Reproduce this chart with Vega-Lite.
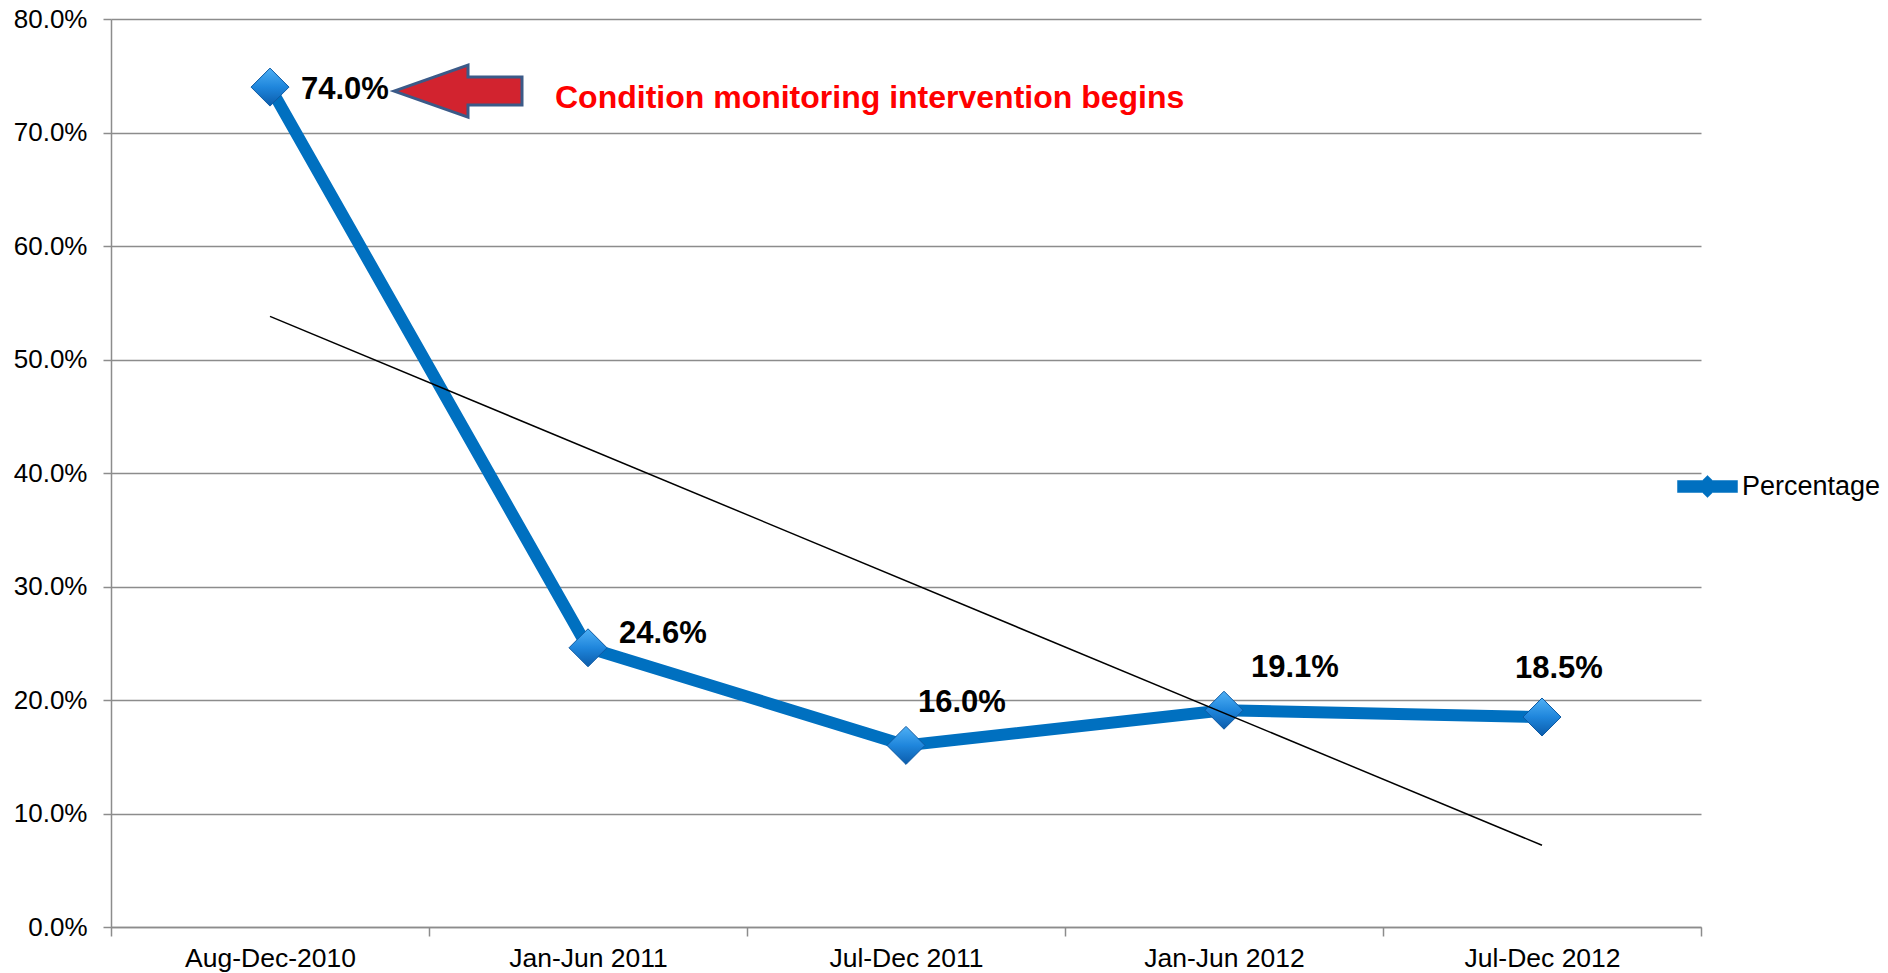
{
  "$schema": "https://vega.github.io/schema/vega-lite/v6.json",
  "width": 1590,
  "height": 908,
  "autosize": {"type": "none"},
  "padding": {"left": 111, "top": 19, "right": 187, "bottom": 46},
  "background": "white",
  "config": {"view": {"stroke": null}, "font": "Liberation Sans"},
  "datasets": {
    "main": [
      {"period": "Aug-Dec-2010", "value": 0.74},
      {"period": "Jan-Jun 2011", "value": 0.246},
      {"period": "Jul-Dec 2011", "value": 0.16},
      {"period": "Jan-Jun 2012", "value": 0.191},
      {"period": "Jul-Dec 2012", "value": 0.185}
    ],
    "trend": [
      {"period": "Aug-Dec-2010", "trend": 0.538},
      {"period": "Jul-Dec 2012", "trend": 0.072}
    ],
    "note": [
      {"period": "Aug-Dec-2010", "value": 0.74, "note": "Condition monitoring intervention begins"}
    ]
  },
  "encoding": {
    "x": {
      "field": "period",
      "type": "nominal",
      "sort": null,
      "scale": {
        "type": "band",
        "paddingInner": 0,
        "paddingOuter": 0,
        "domain": ["Aug-Dec-2010", "Jan-Jun 2011", "Jul-Dec 2011", "Jan-Jun 2012", "Jul-Dec 2012"]
      },
      "axis": {
        "title": null,
        "labelAngle": 0,
        "labelFontSize": 26.5,
        "labelColor": "black",
        "labelPadding": 9,
        "tickBand": "extent",
        "tickSize": 9,
        "tickColor": "#8c8c8c",
        "tickWidth": 1.5,
        "domainColor": "#8c8c8c",
        "domainWidth": 1.5,
        "grid": false
      }
    },
    "y": {
      "field": "value",
      "type": "quantitative",
      "scale": {"domain": [0, 0.8], "nice": false, "zero": true},
      "axis": {
        "title": null,
        "format": ".1%",
        "values": [0, 0.1, 0.2, 0.3, 0.4, 0.5, 0.6, 0.7, 0.8],
        "labelFontSize": 26,
        "labelColor": "black",
        "labelPadding": 16,
        "tickSize": 8,
        "tickColor": "#8c8c8c",
        "tickWidth": 1.5,
        "domainColor": "#8c8c8c",
        "domainWidth": 1.5,
        "grid": true,
        "gridColor": "#8c8c8c",
        "gridWidth": 1.5
      }
    }
  },
  "layer": [
    {
      "data": {"name": "main"},
      "mark": {"type": "line", "strokeWidth": 12, "strokeJoin": "round"},
      "encoding": {
        "color": {
          "datum": "Percentage",
          "type": "nominal",
          "scale": {"range": ["#0070C0"]},
          "legend": {
            "title": null,
            "orient": "none",
            "legendX": 1566,
            "legendY": 437,
            "padding": 0,
            "labelFontSize": 27,
            "labelColor": "black",
            "labelOffset": 4,
            "symbolSize": 3600,
            "symbolType": "M-1,-0.2 L-0.17,-0.2 L0,-0.37 L0.17,-0.2 L1,-0.2 L1,0.2 L0.17,0.2 L0,0.37 L-0.17,0.2 L-1,0.2 Z",
            "encode": {
              "symbols": {
                "update": {
                  "fill": {"value": "#0070C0"},
                  "stroke": {"value": "#0b5fae"},
                  "strokeWidth": {"value": 0.5},
                  "opacity": {"value": 1}
                }
              }
            }
          }
        }
      }
    },
    {
      "data": {"name": "main"},
      "mark": {
        "type": "point",
        "shape": "diamond",
        "filled": true,
        "size": 1444,
        "opacity": 1,
        "fill": {
          "gradient": "linear",
          "x1": 0, "y1": 0, "x2": 0, "y2": 1,
          "stops": [
            {"offset": 0, "color": "#4fb0f5"},
            {"offset": 0.5, "color": "#1f86dc"},
            {"offset": 1, "color": "#0b5cab"}
          ]
        },
        "stroke": "#0d5aa3",
        "strokeWidth": 1
      }
    },
    {
      "data": {"name": "trend"},
      "mark": {"type": "line", "color": "black", "strokeWidth": 1.5},
      "encoding": {
        "y": {"field": "trend", "type": "quantitative"}
      }
    },
    {
      "data": {"name": "main"},
      "transform": [{"filter": "datum.period === 'Aug-Dec-2010'"}],
      "mark": {"type": "text", "align": "left", "baseline": "middle", "dx": 31, "dy": 3, "fontSize": 31, "fontWeight": "bold", "color": "black"},
      "encoding": {"text": {"field": "value", "type": "quantitative", "format": ".1%"}}
    },
    {
      "data": {"name": "main"},
      "transform": [{"filter": "datum.period === 'Jan-Jun 2011'"}],
      "mark": {"type": "text", "align": "left", "baseline": "middle", "dx": 31, "dy": -14, "fontSize": 31, "fontWeight": "bold", "color": "black"},
      "encoding": {"text": {"field": "value", "type": "quantitative", "format": ".1%"}}
    },
    {
      "data": {"name": "main"},
      "transform": [{"filter": "datum.period === 'Jul-Dec 2011'"}],
      "mark": {"type": "text", "align": "left", "baseline": "middle", "dx": 12, "dy": -42, "fontSize": 31, "fontWeight": "bold", "color": "black"},
      "encoding": {"text": {"field": "value", "type": "quantitative", "format": ".1%"}}
    },
    {
      "data": {"name": "main"},
      "transform": [{"filter": "datum.period === 'Jan-Jun 2012'"}],
      "mark": {"type": "text", "align": "left", "baseline": "middle", "dx": 27, "dy": -42, "fontSize": 31, "fontWeight": "bold", "color": "black"},
      "encoding": {"text": {"field": "value", "type": "quantitative", "format": ".1%"}}
    },
    {
      "data": {"name": "main"},
      "transform": [{"filter": "datum.period === 'Jul-Dec 2012'"}],
      "mark": {"type": "text", "align": "left", "baseline": "middle", "dx": -27, "dy": -48, "fontSize": 31, "fontWeight": "bold", "color": "black"},
      "encoding": {"text": {"field": "value", "type": "quantitative", "format": ".1%"}}
    },
    {
      "data": {"name": "note"},
      "mark": {
        "type": "point",
        "shape": "M2.48,0.08 L3.96,-0.44 L3.96,-0.2 L5.04,-0.2 L5.04,0.36 L3.96,0.36 L3.96,0.6 Z",
        "size": 10000,
        "filled": true,
        "opacity": 1,
        "fill": "#D2232F",
        "stroke": "#3B5A88",
        "strokeWidth": 3
      }
    },
    {
      "data": {"name": "note"},
      "mark": {"type": "text", "align": "left", "baseline": "middle", "dx": 285, "dy": 11, "fontSize": 32, "fontWeight": "bold", "color": "#FF0000"},
      "encoding": {"text": {"field": "note", "type": "nominal"}}
    }
  ]
}
